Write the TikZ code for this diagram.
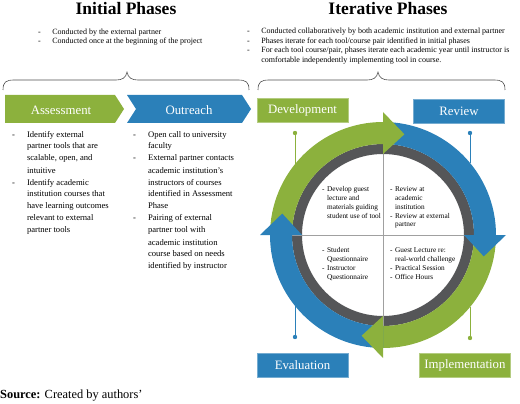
\documentclass[tikz,border=0pt]{standalone}
\usepackage{fontspec}
\setmainfont{Liberation Serif}
\definecolor{pgreen}{HTML}{8CB13D}
\definecolor{pblue}{HTML}{2B80B9}
\definecolor{ringgray}{HTML}{555658}
\definecolor{bracegray}{HTML}{505050}
\definecolor{quadline}{HTML}{A0A0A0}
\begin{document}
\begin{tikzpicture}[x=1pt,y=-1pt,
  titletext/.style={font=\fontsize{17.5}{20}\selectfont\bfseries, inner sep=0, anchor=base},
  topnote/.style={font=\fontsize{8}{9.4}\selectfont, inner sep=0, anchor=base west},
  bodynote/.style={font=\fontsize{8.6}{12}\selectfont, inner sep=0, anchor=base west},
  quadnote/.style={font=\fontsize{7.3}{8.8}\selectfont, inner sep=0, anchor=base west},
  phaselabel/.style={font=\fontsize{12.8}{14}\selectfont, text=white, inner sep=0},
  phasebox/.style={phaselabel, minimum width=91pt, minimum height=24pt, line width=0.6pt},
  gbox/.style={phasebox, fill=pgreen, draw=pgreen!65!white},
  bbox/.style={phasebox, fill=pblue, draw=pblue!65!white},
  bracestyle/.style={draw=bracegray, line width=0.6pt},
  gleader/.style={draw=pgreen, line width=0.9pt},
  bleader/.style={draw=pblue, line width=0.9pt}]
\useasboundingbox (0,0) rectangle (520,404);

% titles
\node[titletext] (t1) at (126,15) {Initial Phases};
\node[titletext] (t2) at (388,15) {Iterative Phases};

\node[topnote] (n1) at (38,34.5) {\begin{tabular}[t]{@{}l@{\hspace{11.5pt}}l@{}}
- & Conducted by the external partner\\
- & Conducted once at the beginning of the project
\end{tabular}};
\node[topnote] (n2) at (247,34) {\begin{tabular}[t]{@{}l@{\hspace{11.5pt}}l@{}}
- & Conducted collaboratively by both academic institution and external partner\\
- & Phases iterate for each tool/course pair identified in initial phases\\
- & For each tool course/pair, phases iterate each academic year until instructor is\\
  & comfortable independently implementing tool in course.
\end{tabular}};

% braces
\draw[bracestyle] (3,90) .. controls (3,82) and (6,80) .. (14,80) -- (116,80)
  .. controls (122,80) and (126,78) .. (127,72)
  .. controls (128,78) and (132,80) .. (138,80) -- (238,80)
  .. controls (246,80) and (249,82) .. (249,90);
\draw[bracestyle] (258,90) .. controls (258,82) and (261,80) .. (269,80) -- (367,80)
  .. controls (373,80) and (377,78) .. (378,72)
  .. controls (379,78) and (383,80) .. (389,80) -- (494,80)
  .. controls (502,80) and (505,82) .. (505,90);

% chevrons
\fill[pgreen] (5,95) -- (115,95) -- (124,109) -- (115,123) -- (5,123) -- cycle;
\fill[pblue] (127,95) -- (242,95) -- (251,109) -- (242,123) -- (127,123) -- (136,109) -- cycle;
\node[phaselabel] (assess) at (61,110) {Assessment};
\node[phaselabel] (outreach) at (189,110) {Outreach};

\node[bodynote] (b1) at (12,137) {\begin{tabular}[t]{@{}l@{\hspace{12pt}}l@{}}
- & Identify external\\
  & partner tools that are\\
  & scalable, open, and\\
  & intuitive\\
- & Identify academic\\
  & institution courses that\\
  & have learning outcomes\\
  & relevant to external\\
  & partner tools
\end{tabular}};
\node[bodynote] (b2) at (133,137) {\begin{tabular}[t]{@{}l@{\hspace{12pt}}l@{}}
- & Open call to university\\
  & faculty\\
- & External partner contacts\\
  & academic institution’s\\
  & instructors of courses\\
  & identified in Assessment\\
  & Phase\\
- & Pairing of external\\
  & partner tool with\\
  & academic institution\\
  & course based on needs\\
  & identified by instructor
\end{tabular}};

% cycle
\begin{scope}[shift={(383,235)}, y=1pt]
  \fill[white] (0,0) circle[radius=81];
  \fill[ringgray, even odd rule] (0,0) circle[radius=91] (0,0) circle[radius=81];
  \draw[quadline, line width=0.6pt] (-91,0) -- (91,0) (0,-91) -- (0,91);
  % bodies
  \fill[pgreen] (180:91) arc[start angle=180,end angle=90,radius=91] -- (90:113) arc[start angle=90,end angle=180,radius=113] -- cycle;
  \fill[pblue] (90:91) arc[start angle=90,end angle=0,radius=91] -- (0:113) arc[start angle=0,end angle=90,radius=113] -- cycle;
  \fill[pgreen] (0:91) arc[start angle=0,end angle=-90,radius=91] -- (-90:113) arc[start angle=-90,end angle=0,radius=113] -- cycle;
  \fill[pblue] (-90:91) arc[start angle=-90,end angle=-180,radius=91] -- (-180:113) arc[start angle=-180,end angle=-90,radius=113] -- cycle;
  % heads
  \fill[pgreen] (90:81) -- (90:123) -- (78:103) -- cycle;
  \fill[pblue] (0:81) -- (0:123) -- (-12:103) -- cycle;
  \fill[pgreen] (-90:81) -- (-90:123) -- (-102:103) -- cycle;
  \fill[pblue] (180:81) -- (180:123) -- (168:103) -- cycle;
\end{scope}

% quadrant texts
\node[quadnote] (q1) at (322,191.6) {\begin{tabular}[t]{@{}l@{\hspace{2.5pt}}l@{}}
- & Develop guest\\
  & lecture and\\
  & materials guiding\\
  & student use of tool
\end{tabular}};
\node[quadnote] (q2) at (390,191.6) {\begin{tabular}[t]{@{}l@{\hspace{2.5pt}}l@{}}
- & Review at\\
  & academic\\
  & institution\\
- & Review at external\\
  & partner
\end{tabular}};
\node[quadnote] (q3) at (322,252.6) {\begin{tabular}[t]{@{}l@{\hspace{2.5pt}}l@{}}
- & Student\\
  & Questionnaire\\
- & Instructor\\
  & Questionnaire
\end{tabular}};
\node[quadnote] (q4) at (390,252.6) {\begin{tabular}[t]{@{}l@{\hspace{2.5pt}}l@{}}
- & Guest Lecture re:\\
  & real-world challenge\\
- & Practical Session\\
- & Office Hours
\end{tabular}};

% phase boxes
\node[gbox] (dev) at (302.5,110.5) {Development};
\node[bbox] (rev) at (459,111) {Review};
\node[bbox] (eval) at (302.5,365) {Evaluation};
\node[gbox] (impl) at (465,365.5) {Implementation};

% leaders
\coordinate (devdot) at (295,133);
\coordinate (devring) at (295,164);
\coordinate (revdot) at (470,133);
\coordinate (revring) at (470,163);
\coordinate (evaldot) at (295,337);
\coordinate (evalring) at (295,306);
\coordinate (impldot) at (470,338);
\coordinate (implring) at (470,307);
\draw[gleader] (devdot) -- (devring);
\fill[pgreen] (devdot) circle[radius=2.2];
\draw[bleader] (revdot) -- (revring);
\fill[pblue] (revdot) circle[radius=2.2];
\draw[bleader] (evaldot) -- (evalring);
\fill[pblue] (evaldot) circle[radius=2.2];
\draw[gleader] (impldot) -- (implring);
\fill[pgreen] (impldot) circle[radius=2.2];

% source
\node[anchor=base west, inner sep=0, font=\fontsize{12.4}{14}\selectfont] (src) at (0,398) {\textbf{Source:} Created by authors’};
\end{tikzpicture}
\end{document}
